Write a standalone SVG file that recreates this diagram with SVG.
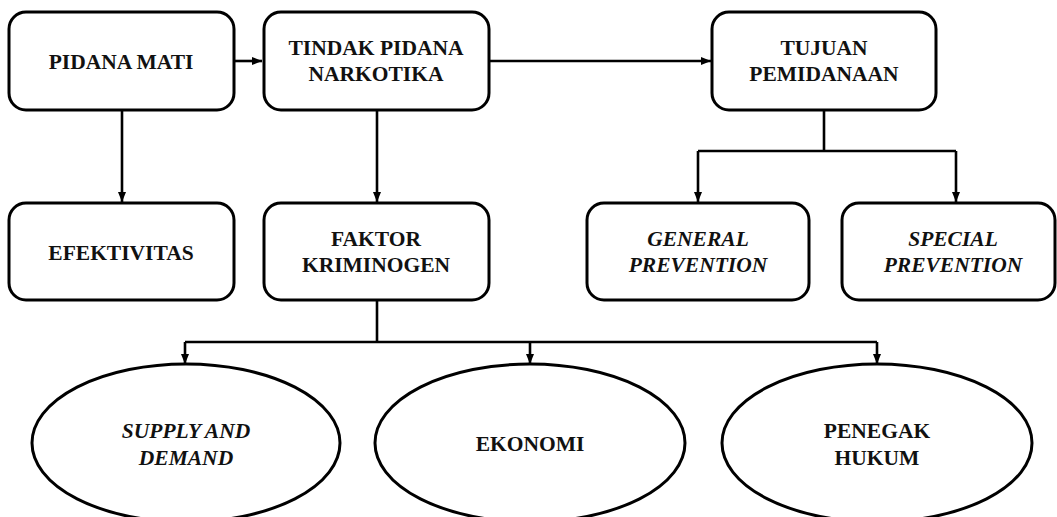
<svg xmlns="http://www.w3.org/2000/svg" width="1057" height="517" viewBox="0 0 1057 517">
<defs>
<marker id="ah" markerUnits="userSpaceOnUse" markerWidth="10" markerHeight="10" viewBox="0 0 10 10" refX="10" refY="5" orient="auto">
<path d="M0,1 L10,5 L0,9 Z" fill="#000"/>
</marker>
<style>
.box{fill:#fff;stroke:#000;stroke-width:3}
.ell{fill:#fff;stroke:#000;stroke-width:3}
.t{font-family:"Liberation Serif","Times New Roman",serif;font-weight:bold;font-size:21.5px;fill:#111;text-anchor:middle}
.i{font-style:italic}
.c{fill:none;stroke:#000;stroke-width:2.6}
</style>
</defs>
<rect width="1057" height="517" fill="#fff"/>
<g id="connectors">
<path class="c" d="M234,61 H262" marker-end="url(#ah)"/>
<path class="c" d="M489,61 H711" marker-end="url(#ah)"/>
<path class="c" d="M122,110 V202" marker-end="url(#ah)"/>
<path class="c" d="M377,110 V202" marker-end="url(#ah)"/>
<path class="c" d="M824,110 V151"/>
<path class="c" d="M698,151 H956"/>
<path class="c" d="M698,151 V202" marker-end="url(#ah)"/>
<path class="c" d="M956,151 V202" marker-end="url(#ah)"/>
<path class="c" d="M377,300 V342"/>
<path class="c" d="M185,342 H877"/>
<path class="c" d="M185,342 V364" marker-end="url(#ah)"/>
<path class="c" d="M530,342 V364" marker-end="url(#ah)"/>
<path class="c" d="M877,342 V364" marker-end="url(#ah)"/>
</g>
<g id="pidana-mati">
<rect class="box" x="9" y="12" width="225" height="98" rx="17"/>
<text class="t" x="121" y="68.5">PIDANA MATI</text>
</g>
<g id="tindak-pidana-narkotika">
<rect class="box" x="264" y="12" width="225" height="98" rx="17"/>
<text class="t" x="376" y="55">TINDAK PIDANA</text>
<text class="t" x="376" y="81">NARKOTIKA</text>
</g>
<g id="tujuan-pemidanaan">
<rect class="box" x="712" y="12" width="224" height="98" rx="17"/>
<text class="t" x="824" y="55">TUJUAN</text>
<text class="t" x="824" y="81">PEMIDANAAN</text>
</g>
<g id="efektivitas">
<rect class="box" x="9" y="203" width="225" height="97" rx="17"/>
<text class="t" x="121" y="259.5">EFEKTIVITAS</text>
</g>
<g id="faktor-kriminogen">
<rect class="box" x="264" y="203" width="225" height="97" rx="17"/>
<text class="t" x="376" y="246">FAKTOR</text>
<text class="t" x="376" y="272">KRIMINOGEN</text>
</g>
<g id="general-prevention">
<rect class="box" x="587" y="203" width="222" height="97" rx="17"/>
<text class="t i" x="698" y="246">GENERAL</text>
<text class="t i" x="698" y="272">PREVENTION</text>
</g>
<g id="special-prevention">
<rect class="box" x="842" y="203" width="213" height="97" rx="17"/>
<text class="t i" x="953" y="246">SPECIAL</text>
<text class="t i" x="953" y="272">PREVENTION</text>
</g>
<g id="supply-and-demand">
<ellipse class="ell" cx="186" cy="443" rx="154" ry="79"/>
<text class="t i" x="186" y="438">SUPPLY AND</text>
<text class="t i" x="186" y="465">DEMAND</text>
</g>
<g id="ekonomi">
<ellipse class="ell" cx="530" cy="443" rx="155" ry="79"/>
<text class="t" x="530" y="451">EKONOMI</text>
</g>
<g id="penegak-hukum">
<ellipse class="ell" cx="877" cy="443" rx="155" ry="79"/>
<text class="t" x="877" y="438">PENEGAK</text>
<text class="t" x="877" y="465">HUKUM</text>
</g>
</svg>
